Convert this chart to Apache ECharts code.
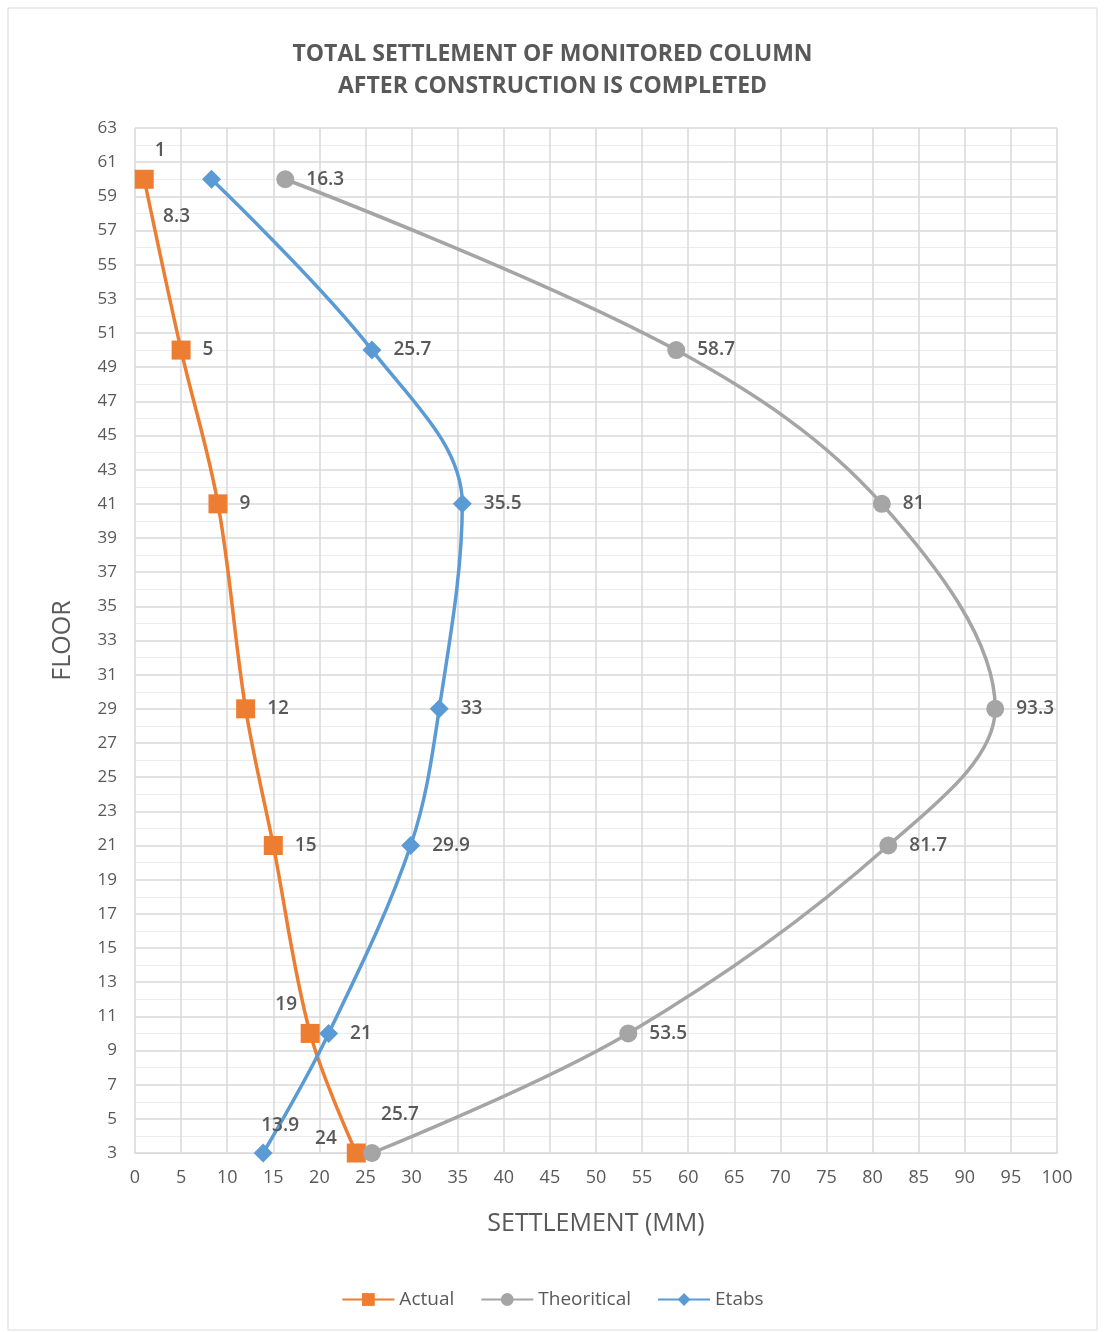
<!DOCTYPE html>
<html>
<head>
<meta charset="utf-8">
<title>settlement</title>
<script src="https://cdn.jsdelivr.net/npm/echarts@6/dist/echarts.min.js"></script>
<style>
  html, body { margin: 0; padding: 0; background: #fff; }
  #main { width: 1105px; height: 1332px; }
</style>
</head>
<body>
<div id="main"></div>
<script>
  // floors where the column was measured
  var floors = [60, 50, 41, 29, 21, 10, 3];
  // settlement in mm
  var actual = [1, 5, 9, 12, 15, 19, 24];
  var theoretical = [16.3, 58.7, 81, 93.3, 81.7, 53.5, 25.7];
  var etabs = [8.3, 25.7, 35.5, 33, 29.9, 21, 13.9];

  var txt = '#595959';
  var font = '"Open Sans", "Liberation Sans", sans-serif';

  // label placement, by index in floors (default is to the right)
  var actualLabel = { 0: { position: 'top', offset: [16, 2] }, 5: { position: 'top', offset: [-24, 2] }, 6: { position: 'left', offset: [2, -14] } };
  var etabsLabel = { 0: { position: 'bottom', offset: [-35, 6] }, 6: { position: 'top', offset: [17, 4] } };
  var theoLabel = { 6: { position: 'top', offset: [28, -8] } };

  function pts(vals, lbl) {
    return vals.map(function (v, i) {
      var d = { value: [v, floors[i]] };
      if (lbl[i]) d.label = lbl[i];
      return d;
    });
  }

  var chart = echarts.init(document.getElementById('main'));

  function serie(name, vals, color, symbol, size, lbl) {
    return {
      name: name,
      type: 'line',
      data: pts(vals, lbl),
      smooth: 0.35,
      symbol: symbol,
      symbolSize: size,
      lineStyle: { color: color, width: 3.5 },
      itemStyle: { color: color },
      label: {
        show: true,
        position: 'right',
        distance: 12,
        color: txt,
        fontSize: 19,
        fontWeight: 600,
        fontFamily: font,
        formatter: function (p) { return p.value[0]; }
      }
    };
  }

  chart.setOption({
    backgroundColor: '#fff',
    animation: false,
    title: {
      text: 'TOTAL SETTLEMENT OF MONITORED COLUMN\nAFTER CONSTRUCTION IS COMPLETED',
      left: 'center',
      top: 33,
      textStyle: { color: txt, fontSize: 23, fontWeight: 'bold', fontFamily: font, lineHeight: 32 }
    },
    graphic: [{
      type: 'rect',
      shape: { x: 8, y: 8, width: 1089, height: 1322 },
      style: { fill: 'none', stroke: '#d9d9d9', lineWidth: 1 },
      silent: true
    }],
    legend: {
      bottom: 18,
      left: 'center',
      itemWidth: 52,
      itemHeight: 16,
      itemGap: 26,
      textStyle: { color: txt, fontSize: 19, fontFamily: font },
      data: ['Actual', 'Theoritical', 'Etabs']
    },
    grid: { left: 135, right: 48, top: 128, bottom: 179 },
    xAxis: {
      type: 'value',
      min: 0,
      max: 100,
      interval: 5,
      name: 'SETTLEMENT (MM)',
      nameLocation: 'middle',
      nameGap: 58,
      nameTextStyle: { color: txt, fontSize: 25, fontFamily: font },
      axisLine: { show: true, lineStyle: { color: '#d9d9d9' } },
      axisTick: { show: false },
      axisLabel: { color: txt, fontSize: 18, fontFamily: font, margin: 16 },
      splitLine: { show: true, lineStyle: { color: '#d9d9d9', width: 1.5 } }
    },
    yAxis: {
      type: 'value',
      min: 3,
      max: 63,
      interval: 2,
      name: 'FLOOR',
      nameLocation: 'middle',
      nameGap: 60,
      nameTextStyle: { color: txt, fontSize: 25, fontFamily: font },
      axisLine: { show: false },
      axisTick: { show: false },
      axisLabel: { color: txt, fontSize: 17, fontFamily: font, margin: 18 },
      splitLine: { show: true, lineStyle: { color: '#d9d9d9', width: 1.5 } },
      minorTick: { show: false, splitNumber: 2 },
      minorSplitLine: { show: true, lineStyle: { color: '#ececec', width: 1 } }
    },
    series: [
      serie('Actual', actual, '#ED7D31', 'rect', 19, actualLabel),
      serie('Theoritical', theoretical, '#A5A5A5', 'circle', 18, theoLabel),
      serie('Etabs', etabs, '#5B9BD5', 'diamond', 19, etabsLabel)
    ]
  });
</script>
</body>
</html>
